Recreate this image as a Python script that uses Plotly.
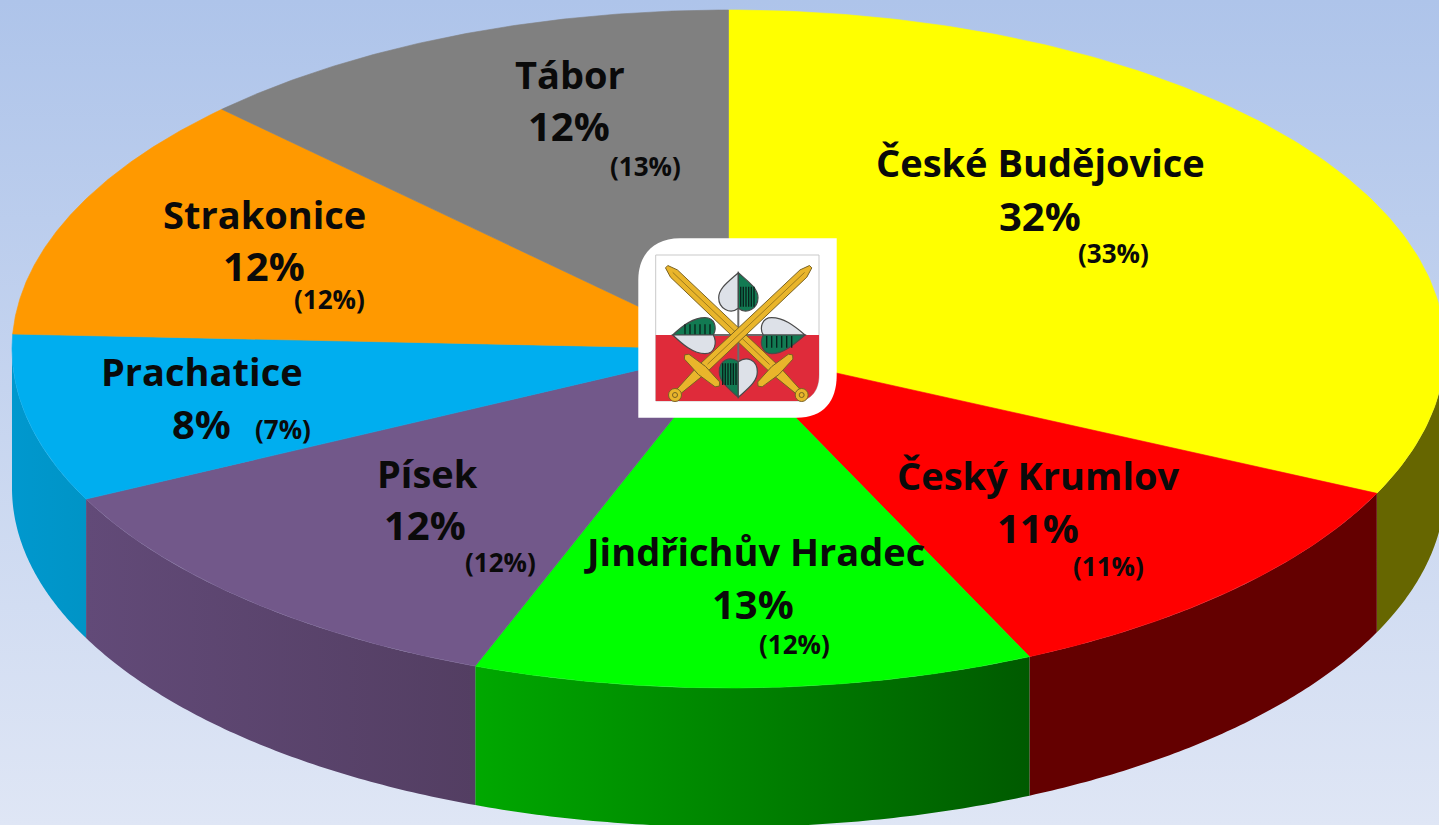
import numpy as np
import plotly.graph_objects as go

# ---------- data ----------
districts = ["České Budějovice", "Český Krumlov", "Jindřichův Hradec", "Písek",
             "Prachatice", "Strakonice", "Tábor"]
shares = [32.0, 11.1, 12.65, 11.95, 8.0, 11.8, 12.5]
share_labels = [32, 11, 13, 12, 8, 12, 12]
previous = [33, 11, 12, 12, 7, 12, 13]

# ---------- styles ----------
top_colors = ["#FFFF00", "#FF0000", "#00FF00", "#72588A", "#00AEEF", "#FF9900", "#808080"]
wall_left = ["#666600", "#640000", "#00A800", "#624A78", "#0098CE", "#CC7A00", "#666666"]
wall_right = ["#666600", "#640000", "#005A00", "#533E62", "#0094C6", "#CC7A00", "#666666"]
name_pos = [(1040, 162), (1038, 475), (754, 551), (427, 473), (202, 371), (264, 214), (570, 74)]
share_pos = [(1040, 215), (1038, 527), (753, 603), (425, 524), (201, 423), (264, 265), (569, 125)]
prev_pos = [(1113, 253), (1108, 566), (794, 644), (500, 562), (283, 429), (329, 299), (645, 166)]

W, H = 1439, 825
CX, CY, RX, RY, DEPTH = 728.5, 349.0, 716.5, 339.0, 139.0
FONT = "Open Sans"


def ell(theta):
    return CX + RX * np.sin(theta), CY - RY * np.cos(theta)


fig = go.Figure()

# background
fig.add_trace(go.Scatter(
    x=[0, W, W, 0, 0], y=[0, 0, H, H, 0], mode="none", fill="toself",
    fillgradient=dict(type="vertical", colorscale=[[0, "#DFE6F5"], [1, "#AEC4EA"]]),
    hoverinfo="skip", showlegend=False))

edges = np.deg2rad(np.cumsum([0] + shares) * 3.6)

# side walls, only the part of the rim that faces the viewer
for i in range(len(shares)):
    a, b = max(edges[i], np.pi / 2), min(edges[i + 1], 1.5 * np.pi)
    if b <= a:
        continue
    t = np.linspace(a, b, 80)
    x, y = ell(t)
    px = np.concatenate([x, x[::-1], x[:1]])
    py = np.concatenate([y, y[::-1] + DEPTH, y[:1]])
    fig.add_trace(go.Scatter(
        x=px, y=py, mode="none", fill="toself",
        fillgradient=dict(type="horizontal",
                          colorscale=[[0, wall_left[i]], [1, wall_right[i]]]),
        hoverinfo="skip", showlegend=False))

# top faces
for i in range(len(shares)):
    t = np.linspace(edges[i], edges[i + 1], 160)
    x, y = ell(t)
    fig.add_trace(go.Scatter(
        x=np.concatenate([[CX], x, [CX]]), y=np.concatenate([[CY], y, [CY]]),
        mode="lines", line=dict(color=top_colors[i], width=0.6), fill="toself",
        fillcolor=top_colors[i], hoverinfo="skip", showlegend=False))

# labels
annotations = []
for i, name in enumerate(districts):
    for txt, pos, size, weight in ((name, name_pos[i], 38, 700),
                                   (f"{share_labels[i]}%", share_pos[i], 40, 700),
                                   (f"({previous[i]}%)", prev_pos[i], 26, 700)):
        annotations.append(dict(
            x=pos[0], y=pos[1], text=txt, showarrow=False, xanchor="center",
            yanchor="middle", font=dict(family=FONT, size=size, color="#0A0A0A", weight=weight)))


# ---------- coat of arms badge ----------
def Z(px, py):
    return f"{620 + px / 3:.1f},{225 + py / 3:.1f}"


def path(*cmds):
    return " ".join(c if isinstance(c, str) else Z(*c) for c in cmds)


shapes = []


def add(p, fill=None, line=None, lw=0):
    shapes.append(dict(type="path", path=p, fillcolor=fill or "rgba(0,0,0,0)", layer="above",
                       line=dict(color=line or "rgba(0,0,0,0)", width=lw)))


add(path("M", (55, 578), "L", (55, 165), "C", (55, 90), (100, 40), (180, 40), "L", (650, 40),
         "L", (650, 450), "C", (650, 530), (610, 578), (530, 578), "Z"), "#FFFFFF")
add(path("M", (107, 90), "L", (597, 90), "L", (597, 450), "C", (597, 500), (570, 528), (530, 528),
         "L", (107, 528), "Z"), "#FFFFFF", "#C9C9C9", 1)
add(path("M", (107, 330), "L", (597, 330), "L", (597, 450), "C", (597, 500), (570, 528), (530, 528),
         "L", (107, 528), "Z"), "#DF2B3A")
# cross stems
add(path("M", (355, 145), "L", (355, 515)), None, "#6B6B6B", 2)
add(path("M", (165, 330), "L", (550, 330)), None, "#6B6B6B", 2)

GREY, GREEN, EDGE = "#DDE1E8", "#127A52", "#4A4A4A"
# top leaf
add(path("M", (355, 143), "C", (325, 170), (296, 190), (296, 218), "C", (296, 250), (330, 270), (355, 250), "Z"), GREY, EDGE, 1.2)
add(path("M", (355, 143), "C", (385, 170), (414, 190), (414, 218), "C", (414, 250), (380, 270), (355, 250), "Z"), GREEN, EDGE, 1.2)
# bottom leaf
add(path("M", (355, 517), "C", (325, 490), (298, 470), (298, 440), "C", (298, 405), (330, 392), (355, 410), "Z"), GREEN, EDGE, 1.2)
add(path("M", (355, 517), "C", (385, 490), (412, 470), (412, 440), "C", (412, 405), (380, 392), (355, 410), "Z"), GREY, EDGE, 1.2)
# left leaf
add(path("M", (158, 330), "C", (190, 300), (220, 278), (255, 278), "C", (285, 278), (292, 310), (280, 330), "Z"), GREEN, EDGE, 1.2)
add(path("M", (158, 330), "C", (190, 360), (220, 386), (255, 386), "C", (285, 386), (292, 352), (280, 330), "Z"), GREY, EDGE, 1.2)
# right leaf
add(path("M", (555, 330), "C", (520, 300), (490, 278), (455, 278), "C", (425, 278), (418, 310), (430, 330), "Z"), GREY, EDGE, 1.2)
add(path("M", (555, 330), "C", (520, 360), (490, 386), (455, 386), "C", (425, 386), (418, 352), (430, 330), "Z"), GREEN, EDGE, 1.2)
# hatching on the green halves
for hx in (362, 370, 378, 386, 394, 402):
    add(path("M", (hx, 185), "L", (hx, 245)), None, "#08201A", 1.3)
    add(path("M", (710 - hx, 415), "L", (710 - hx, 480)), None, "#08201A", 1.3)
for hx in (195, 210, 225, 240, 255, 270):
    add(path("M", (hx, 298), "L", (hx, 328)), None, "#08201A", 1.3)
    add(path("M", (710 - hx, 333), "L", (710 - hx, 368)), None, "#08201A", 1.3)

GOLD, DARK = "#E9B52B", "#7A6222"


def poly(points, fill, line=DARK, lw=1):
    cmds = ["M", points[0]]
    for p_ in points[1:]:
        cmds += ["L", p_]
    cmds.append("Z")
    add(path(*cmds), fill, line, lw)


def sword(tip, pommel, g1, g2):
    tip, pommel, g1, g2 = map(np.array, (tip, pommel, g1, g2))
    d = pommel - tip
    length = np.hypot(*d)
    u = d / length
    n = np.array([-u[1], u[0]])
    guard_s = np.dot((g1 + g2) / 2 - tip, u)
    # tapering blade
    pts = [tip + n * 5, tip + u * 30 + n * 15, tip + u * guard_s + n * 16,
           tip + u * (length - 5) + n * 8, tip + u * (length - 5) - n * 8,
           tip + u * guard_s - n * 16, tip + u * 30 - n * 15, tip - n * 5]
    poly([tuple(p) for p in pts], GOLD)
    # fuller
    a = tip + u * 25
    b = tip + u * (guard_s - 25)
    add(path("M", tuple(a), "L", tuple(b)), None, "#9C7A1E", 1)
    # rounded crossguard
    g = (g2 - g1) / np.hypot(*(g2 - g1))
    m = np.array([-g[1], g[0]])
    pts = [g1 + m * 10, g1 + g * 12 + m * 11, (g1 + g2) / 2 + m * 16, g2 - g * 12 + m * 11, g2 + m * 10,
           g2 + g * 8, g2 - m * 10, g2 - g * 12 - m * 11, (g1 + g2) / 2 - m * 16, g1 + g * 12 - m * 11,
           g1 - m * 10, g1 - g * 8]
    poly([tuple(p) for p in pts], GOLD)
    cx, cy = 620 + pommel[0] / 3, 225 + pommel[1] / 3
    for r in (6.5, 2.5):
        shapes.append(dict(type="circle", layer="above", xref="x", yref="y",
                           x0=cx - r, x1=cx + r, y0=cy - r, y1=cy + r,
                           fillcolor=GOLD, line=dict(color=DARK, width=1)))


sword((140, 125), (545, 510), (512, 395), (420, 478))
sword((572, 125), (165, 510), (200, 395), (292, 478))

fig.update_layout(
    width=W, height=H, margin=dict(l=0, r=0, t=0, b=0), autosize=False,
    paper_bgcolor="#C8D5EE", plot_bgcolor="rgba(0,0,0,0)", showlegend=False,
    xaxis=dict(range=[0, W], visible=False, fixedrange=True),
    yaxis=dict(range=[H, 0], visible=False, fixedrange=True),
    annotations=annotations, shapes=shapes)

fig.write_html("out.html", config={"displayModeBar": False},
               post_script="document.body.style.margin='0';document.body.style.overflow='hidden';")
